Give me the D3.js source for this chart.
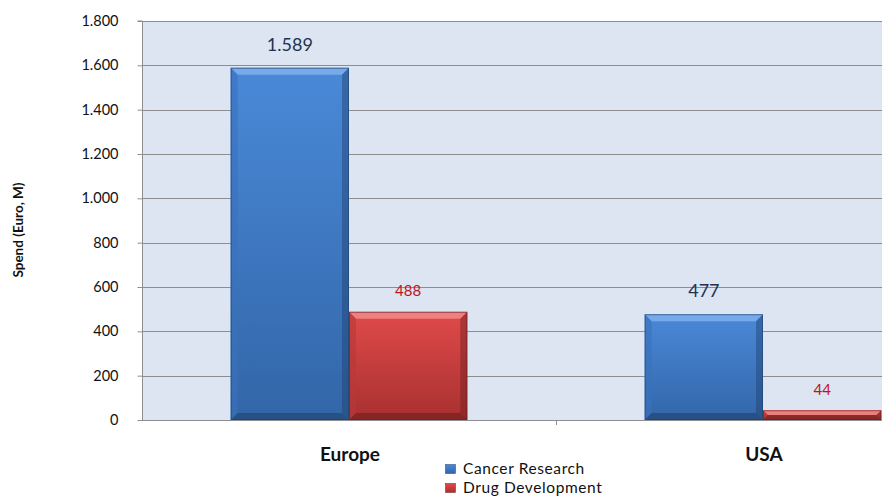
<!DOCTYPE html>
<html><head><meta charset="utf-8">
<script src="https://cdn.jsdelivr.net/npm/d3@7"></script>
<style>body{margin:0;background:#fff;}svg{display:block;font-family:Lato,"Open Sans",sans-serif;}</style>
</head><body>
<svg id="c" width="882" height="497"></svg>
<script>
const categories = ["Europe", "USA"];
const seriesNames = ["Cancer Research", "Drug Development"];
const cancerResearch = [1589, 477];
const drugDevelopment = [488, 44];
const valueLabels = [["1.589", "477"], ["488", "44"]];
const yTicks = [0, 200, 400, 600, 800, 1000, 1200, 1400, 1600, 1800];
const yTickLabels = ["0", "200", "400", "600", "800", "1.000", "1.200", "1.400", "1.600", "1.800"];

(function () {
const svg = d3.select("#c");
const pL = 142, pT = 21, pB = 420, pR = 970;
const y = d3.scaleLinear().domain([0, 1800]).range([pB, pT]);
const x0 = d3.scaleBand().domain(categories).range([pL, pR]).paddingInner(0).paddingOuter(0);
const x1 = d3.scaleBand().domain(seriesNames).range([0, x0.bandwidth()]).paddingInner(0).paddingOuter(0.75);

const defs = svg.append("defs");
defs.append("clipPath").attr("id", "clip").append("rect").attr("x", 0).attr("y", 0).attr("width", 882).attr("height", 497);
function grad(id, c1, c2) {
  const g = defs.append("linearGradient").attr("id", id).attr("x1", 0).attr("y1", 0).attr("x2", 0).attr("y2", 1);
  g.append("stop").attr("offset", "0%").attr("stop-color", c1);
  g.append("stop").attr("offset", "100%").attr("stop-color", c2);
}
grad("gBlue", "#4a89d8", "#3266a8");
grad("gRed", "#e04a4a", "#a83030");

svg.append("rect").attr("x", pL).attr("y", pT).attr("width", pR - pL).attr("height", pB - pT).attr("fill", "#dce5f1");

svg.append("g").selectAll("line").data(yTicks.filter(d => d > 0)).join("line")
  .attr("x1", pL).attr("x2", 882).attr("y1", d => Math.round(y(d)) + 0.5).attr("y2", d => Math.round(y(d)) + 0.5)
  .attr("stroke", "#8e8e8e").attr("stroke-width", 1);

const yAxis = d3.axisLeft(y).tickValues(yTicks).tickFormat((d, i) => yTickLabels[i]).tickSize(5).tickPadding(19);
const ga = svg.append("g").attr("transform", `translate(${pL + 0.5},0)`).call(yAxis);
ga.select(".domain").attr("stroke", "#8e8e8e").attr("d", `M-5,${y(1800)}H0V${y(0)}`);
ga.selectAll(".tick line").attr("stroke", "#8e8e8e");
ga.selectAll(".tick text").attr("font-size", 14.5).attr("fill", "#111").attr("font-family", "Lato, sans-serif");

svg.append("line").attr("x1", pL).attr("x2", 882).attr("y1", pB + 0.5).attr("y2", pB + 0.5).attr("stroke", "#8e8e8e");
svg.append("line").attr("x1", x0("USA") + 0.5).attr("x2", x0("USA") + 0.5).attr("y1", pB).attr("y2", pB + 5).attr("stroke", "#8e8e8e");
svg.append("g").selectAll("text").data(categories).join("text")
  .attr("x", d => x0(d) + x0.bandwidth() / 2 + 1).attr("y", 461).attr("text-anchor", "middle")
  .attr("font-size", 19).attr("font-weight", "bold").attr("fill", "#111").text(d => d);

svg.append("text").attr("transform", "translate(23,230) rotate(-90)").attr("text-anchor", "middle")
  .attr("font-size", 13.5).attr("font-weight", "bold").attr("fill", "#111").text("Spend (Euro, M)");

const series = [
  {name: seriesNames[0], values: cancerResearch, fill: "url(#gBlue)", light: "#7fb0ec", dark: "#1f416e", side: "#3a72bb", labelColor: "#1f3350", labelSize: 18, labelOff: 17, labels: valueLabels[0]},
  {name: seriesNames[1], values: drugDevelopment, fill: "url(#gRed)", light: "#f08a8a", dark: "#6e1e1e", side: "#b83838", labelColor: "#c0141c", labelSize: 15, labelOff: 15.5, labels: valueLabels[1]}
];
const barG = svg.append("g").attr("clip-path", "url(#clip)");
series.forEach(s => {
  categories.forEach((c, i) => {
    const bx = x0(c) + x1(s.name), bw = x1.bandwidth();
    const by = y(s.values[i]), bh = pB - by;
    const b = Math.min(7, bh / 2);
    const g = barG.append("g");
    g.append("rect").attr("x", bx).attr("y", by).attr("width", bw).attr("height", bh).attr("fill", s.fill);
    g.append("path").attr("d", `M${bx},${by}H${bx + bw}L${bx + bw - b},${by + b}H${bx + b}Z`).attr("fill", s.light).attr("opacity", 0.85);
    g.append("path").attr("d", `M${bx},${by}L${bx + b},${by + b}V${pB - b}L${bx},${pB}Z`).attr("fill", s.side).attr("opacity", 0.6);
    g.append("path").attr("d", `M${bx + bw},${by}L${bx + bw - b},${by + b}V${pB - b}L${bx + bw},${pB}Z`).attr("fill", s.dark).attr("opacity", 0.45);
    g.append("path").attr("d", `M${bx},${pB}L${bx + b},${pB - b}H${bx + bw - b}L${bx + bw},${pB}Z`).attr("fill", s.dark).attr("opacity", 0.6);
    g.append("rect").attr("x", bx + 0.5).attr("y", by + 0.5).attr("width", bw - 1).attr("height", bh - 1).attr("fill", "none").attr("stroke", s.dark).attr("stroke-opacity", 0.6);
    barG.append("text").attr("x", bx + bw / 2).attr("y", by - s.labelOff).attr("text-anchor", "middle")
      .attr("font-size", s.labelSize).attr("fill", s.labelColor).text(s.labels[i]);
  });
});

const legend = svg.append("g");
series.forEach((s, i) => {
  const ly = 474 + i * 19;
  legend.append("rect").attr("x", 445.5).attr("y", ly - 9.5).attr("width", 10).attr("height", 9).attr("fill", s.fill).attr("stroke", s.dark).attr("stroke-width", 0.5);
  legend.append("text").attr("x", 463).attr("y", ly).attr("font-size", 15.5).attr("letter-spacing", 0.6).attr("fill", "#111").text(s.name);
});
})();
</script>
</body></html>
